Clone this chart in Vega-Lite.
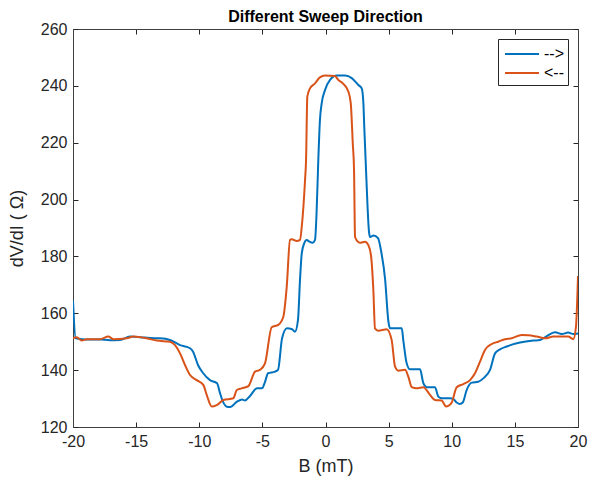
{
  "$schema": "https://vega.github.io/schema/vega-lite/v6.json",
  "width": 505,
  "height": 398,
  "autosize": "none",
  "padding": {"left": 73, "top": 29, "right": 12, "bottom": 60},
  "background": "white",
  "config": {
    "font": "Liberation Sans",
    "view": {"stroke": null},
    "axis": {
      "grid": false,
      "domainColor": "#404040",
      "tickColor": "#262626",
      "labelColor": "#262626",
      "titleColor": "#262626",
      "labelFont": "Liberation Sans",
      "titleFont": "Liberation Sans",
      "labelFontSize": 16,
      "titleFontSize": 18,
      "titleFontWeight": "normal",
      "labelFlush": false,
      "tickSize": -5,
      "labelPadding": 11
    }
  },
  "title": {
    "text": "Different Sweep Direction",
    "fontSize": 16,
    "fontWeight": "bold",
    "color": "#000000",
    "anchor": "middle",
    "offset": -4
  },
  "datasets": {
    "sweep": [
      {"B": -20.0, "R": 164.4, "dir": "-->"},
      {"B": -19.79, "R": 151.2, "dir": "-->"},
      {"B": -19.05, "R": 150.8, "dir": "-->"},
      {"B": -17.86, "R": 150.8, "dir": "-->"},
      {"B": -17.07, "R": 150.5, "dir": "-->"},
      {"B": -16.28, "R": 150.6, "dir": "-->"},
      {"B": -15.49, "R": 151.8, "dir": "-->"},
      {"B": -14.69, "R": 151.6, "dir": "-->"},
      {"B": -13.90, "R": 151.3, "dir": "-->"},
      {"B": -13.11, "R": 151.2, "dir": "-->"},
      {"B": -12.32, "R": 150.6, "dir": "-->"},
      {"B": -11.52, "R": 148.8, "dir": "-->"},
      {"B": -10.73, "R": 147.7, "dir": "-->"},
      {"B": -10.49, "R": 146.5, "dir": "-->"},
      {"B": -10.10, "R": 141.8, "dir": "-->"},
      {"B": -9.70, "R": 139.0, "dir": "-->"},
      {"B": -9.15, "R": 136.5, "dir": "-->"},
      {"B": -8.59, "R": 135.4, "dir": "-->"},
      {"B": -8.36, "R": 132.0, "dir": "-->"},
      {"B": -8.12, "R": 128.9, "dir": "-->"},
      {"B": -7.80, "R": 127.1, "dir": "-->"},
      {"B": -7.56, "R": 127.0, "dir": "-->"},
      {"B": -7.01, "R": 128.9, "dir": "-->"},
      {"B": -6.61, "R": 129.7, "dir": "-->"},
      {"B": -6.38, "R": 129.3, "dir": "-->"},
      {"B": -5.98, "R": 130.9, "dir": "-->"},
      {"B": -5.43, "R": 133.6, "dir": "-->"},
      {"B": -5.03, "R": 133.6, "dir": "-->"},
      {"B": -4.79, "R": 135.9, "dir": "-->"},
      {"B": -4.55, "R": 138.9, "dir": "-->"},
      {"B": -4.00, "R": 139.5, "dir": "-->"},
      {"B": -3.76, "R": 140.1, "dir": "-->"},
      {"B": -3.44, "R": 151.2, "dir": "-->"},
      {"B": -3.05, "R": 154.7, "dir": "-->"},
      {"B": -2.65, "R": 154.4, "dir": "-->"},
      {"B": -2.42, "R": 153.5, "dir": "-->"},
      {"B": -2.18, "R": 157.6, "dir": "-->"},
      {"B": -2.02, "R": 171.7, "dir": "-->"},
      {"B": -1.88, "R": 181.1, "dir": "-->"},
      {"B": -1.68, "R": 184.7, "dir": "-->"},
      {"B": -1.49, "R": 185.8, "dir": "-->"},
      {"B": -1.28, "R": 185.2, "dir": "-->"},
      {"B": -1.02, "R": 184.8, "dir": "-->"},
      {"B": -0.83, "R": 185.8, "dir": "-->"},
      {"B": -0.71, "R": 195.0, "dir": "-->"},
      {"B": -0.57, "R": 213.9, "dir": "-->"},
      {"B": -0.44, "R": 228.0, "dir": "-->"},
      {"B": -0.30, "R": 233.9, "dir": "-->"},
      {"B": -0.04, "R": 238.5, "dir": "-->"},
      {"B": 0.36, "R": 242.1, "dir": "-->"},
      {"B": 0.89, "R": 243.6, "dir": "-->"},
      {"B": 1.55, "R": 243.6, "dir": "-->"},
      {"B": 2.08, "R": 242.7, "dir": "-->"},
      {"B": 2.60, "R": 240.3, "dir": "-->"},
      {"B": 2.87, "R": 239.1, "dir": "-->"},
      {"B": 3.00, "R": 234.0, "dir": "-->"},
      {"B": 3.07, "R": 225.6, "dir": "-->"},
      {"B": 3.21, "R": 210.4, "dir": "-->"},
      {"B": 3.45, "R": 188.5, "dir": "-->"},
      {"B": 3.53, "R": 186.8, "dir": "-->"},
      {"B": 3.80, "R": 187.4, "dir": "-->"},
      {"B": 4.16, "R": 186.4, "dir": "-->"},
      {"B": 4.40, "R": 182.0, "dir": "-->"},
      {"B": 4.72, "R": 172.0, "dir": "-->"},
      {"B": 4.98, "R": 157.2, "dir": "-->"},
      {"B": 5.11, "R": 154.7, "dir": "-->"},
      {"B": 6.04, "R": 154.7, "dir": "-->"},
      {"B": 6.16, "R": 150.6, "dir": "-->"},
      {"B": 6.43, "R": 142.4, "dir": "-->"},
      {"B": 6.69, "R": 140.3, "dir": "-->"},
      {"B": 7.49, "R": 140.3, "dir": "-->"},
      {"B": 7.75, "R": 135.4, "dir": "-->"},
      {"B": 8.02, "R": 134.0, "dir": "-->"},
      {"B": 8.67, "R": 134.0, "dir": "-->"},
      {"B": 8.94, "R": 130.7, "dir": "-->"},
      {"B": 9.20, "R": 130.1, "dir": "-->"},
      {"B": 9.86, "R": 130.1, "dir": "-->"},
      {"B": 10.12, "R": 129.9, "dir": "-->"},
      {"B": 10.39, "R": 128.6, "dir": "-->"},
      {"B": 10.65, "R": 128.1, "dir": "-->"},
      {"B": 10.87, "R": 128.6, "dir": "-->"},
      {"B": 11.18, "R": 133.0, "dir": "-->"},
      {"B": 11.58, "R": 135.6, "dir": "-->"},
      {"B": 12.10, "R": 135.9, "dir": "-->"},
      {"B": 12.50, "R": 137.1, "dir": "-->"},
      {"B": 13.03, "R": 140.1, "dir": "-->"},
      {"B": 13.43, "R": 145.9, "dir": "-->"},
      {"B": 13.82, "R": 147.3, "dir": "-->"},
      {"B": 14.35, "R": 148.3, "dir": "-->"},
      {"B": 15.41, "R": 149.7, "dir": "-->"},
      {"B": 16.46, "R": 150.4, "dir": "-->"},
      {"B": 16.99, "R": 150.6, "dir": "-->"},
      {"B": 17.52, "R": 152.0, "dir": "-->"},
      {"B": 18.18, "R": 153.3, "dir": "-->"},
      {"B": 18.71, "R": 152.7, "dir": "-->"},
      {"B": 19.23, "R": 153.2, "dir": "-->"},
      {"B": 19.63, "R": 152.7, "dir": "-->"},
      {"B": 20.0, "R": 152.9, "dir": "-->"},

      {"B": -20.0, "R": 151.2, "dir": "<--"},
      {"B": -19.71, "R": 151.6, "dir": "<--"},
      {"B": -19.31, "R": 150.4, "dir": "<--"},
      {"B": -18.91, "R": 150.9, "dir": "<--"},
      {"B": -17.86, "R": 150.9, "dir": "<--"},
      {"B": -17.20, "R": 151.8, "dir": "<--"},
      {"B": -16.81, "R": 150.9, "dir": "<--"},
      {"B": -15.75, "R": 151.2, "dir": "<--"},
      {"B": -15.22, "R": 151.8, "dir": "<--"},
      {"B": -14.16, "R": 151.2, "dir": "<--"},
      {"B": -13.37, "R": 150.4, "dir": "<--"},
      {"B": -12.32, "R": 150.0, "dir": "<--"},
      {"B": -11.92, "R": 148.8, "dir": "<--"},
      {"B": -11.52, "R": 145.9, "dir": "<--"},
      {"B": -11.13, "R": 141.8, "dir": "<--"},
      {"B": -10.73, "R": 138.3, "dir": "<--"},
      {"B": -10.20, "R": 136.5, "dir": "<--"},
      {"B": -9.68, "R": 134.8, "dir": "<--"},
      {"B": -9.41, "R": 131.3, "dir": "<--"},
      {"B": -9.01, "R": 127.2, "dir": "<--"},
      {"B": -8.62, "R": 127.7, "dir": "<--"},
      {"B": -8.09, "R": 129.5, "dir": "<--"},
      {"B": -7.30, "R": 130.1, "dir": "<--"},
      {"B": -7.03, "R": 133.0, "dir": "<--"},
      {"B": -6.64, "R": 133.6, "dir": "<--"},
      {"B": -6.11, "R": 134.4, "dir": "<--"},
      {"B": -5.58, "R": 139.5, "dir": "<--"},
      {"B": -5.19, "R": 140.1, "dir": "<--"},
      {"B": -4.79, "R": 142.4, "dir": "<--"},
      {"B": -4.26, "R": 155.1, "dir": "<--"},
      {"B": -3.74, "R": 155.9, "dir": "<--"},
      {"B": -3.34, "R": 158.8, "dir": "<--"},
      {"B": -3.07, "R": 169.4, "dir": "<--"},
      {"B": -2.81, "R": 185.8, "dir": "<--"},
      {"B": -2.67, "R": 186.0, "dir": "<--"},
      {"B": -2.28, "R": 185.4, "dir": "<--"},
      {"B": -2.02, "R": 185.8, "dir": "<--"},
      {"B": -1.88, "R": 190.5, "dir": "<--"},
      {"B": -1.62, "R": 206.9, "dir": "<--"},
      {"B": -1.54, "R": 213.9, "dir": "<--"},
      {"B": -1.44, "R": 236.2, "dir": "<--"},
      {"B": -1.23, "R": 239.1, "dir": "<--"},
      {"B": -0.83, "R": 240.9, "dir": "<--"},
      {"B": -0.44, "R": 243.0, "dir": "<--"},
      {"B": -0.04, "R": 243.6, "dir": "<--"},
      {"B": 0.75, "R": 243.5, "dir": "<--"},
      {"B": 1.01, "R": 242.1, "dir": "<--"},
      {"B": 1.41, "R": 240.7, "dir": "<--"},
      {"B": 1.81, "R": 238.0, "dir": "<--"},
      {"B": 2.00, "R": 233.9, "dir": "<--"},
      {"B": 2.16, "R": 219.8, "dir": "<--"},
      {"B": 2.26, "R": 210.4, "dir": "<--"},
      {"B": 2.34, "R": 186.9, "dir": "<--"},
      {"B": 2.52, "R": 185.4, "dir": "<--"},
      {"B": 2.73, "R": 184.8, "dir": "<--"},
      {"B": 3.13, "R": 185.2, "dir": "<--"},
      {"B": 3.39, "R": 184.0, "dir": "<--"},
      {"B": 3.60, "R": 180.5, "dir": "<--"},
      {"B": 3.79, "R": 168.2, "dir": "<--"},
      {"B": 3.92, "R": 154.7, "dir": "<--"},
      {"B": 4.18, "R": 153.9, "dir": "<--"},
      {"B": 4.85, "R": 154.4, "dir": "<--"},
      {"B": 5.24, "R": 150.6, "dir": "<--"},
      {"B": 5.51, "R": 141.2, "dir": "<--"},
      {"B": 5.77, "R": 139.8, "dir": "<--"},
      {"B": 6.30, "R": 140.1, "dir": "<--"},
      {"B": 6.56, "R": 137.7, "dir": "<--"},
      {"B": 6.83, "R": 134.0, "dir": "<--"},
      {"B": 7.22, "R": 133.6, "dir": "<--"},
      {"B": 7.75, "R": 134.0, "dir": "<--"},
      {"B": 8.28, "R": 131.3, "dir": "<--"},
      {"B": 8.67, "R": 129.5, "dir": "<--"},
      {"B": 9.20, "R": 129.3, "dir": "<--"},
      {"B": 9.55, "R": 127.2, "dir": "<--"},
      {"B": 9.73, "R": 127.4, "dir": "<--"},
      {"B": 10.00, "R": 128.6, "dir": "<--"},
      {"B": 10.39, "R": 134.0, "dir": "<--"},
      {"B": 10.92, "R": 135.1, "dir": "<--"},
      {"B": 11.45, "R": 136.5, "dir": "<--"},
      {"B": 11.84, "R": 138.9, "dir": "<--"},
      {"B": 12.24, "R": 143.0, "dir": "<--"},
      {"B": 12.63, "R": 147.1, "dir": "<--"},
      {"B": 13.17, "R": 149.2, "dir": "<--"},
      {"B": 13.69, "R": 150.0, "dir": "<--"},
      {"B": 14.22, "R": 150.9, "dir": "<--"},
      {"B": 14.75, "R": 151.2, "dir": "<--"},
      {"B": 15.54, "R": 152.4, "dir": "<--"},
      {"B": 16.07, "R": 152.3, "dir": "<--"},
      {"B": 16.73, "R": 151.8, "dir": "<--"},
      {"B": 17.39, "R": 151.2, "dir": "<--"},
      {"B": 18.05, "R": 151.8, "dir": "<--"},
      {"B": 18.84, "R": 151.8, "dir": "<--"},
      {"B": 19.23, "R": 151.8, "dir": "<--"},
      {"B": 19.63, "R": 150.9, "dir": "<--"},
      {"B": 19.84, "R": 155.3, "dir": "<--"},
      {"B": 20.0, "R": 173.1, "dir": "<--"}
    ]
  },
  "data": {"name": "sweep"},
  "layer": [
    {
      "mark": {"type": "line", "strokeWidth": 2, "interpolate": "monotone", "clip": true},
      "encoding": {
        "x": {
          "field": "B", "type": "quantitative",
          "scale": {"domain": [-20, 20], "nice": false, "zero": false},
          "axis": {
            "orient": "bottom",
            "values": [-20, -15, -10, -5, 0, 5, 10, 15, 20],
            "labelExpr": "datum.value < 0 ? '-' + abs(datum.value) : '' + datum.value",
            "title": "B (mT)",
            "titlePadding": 8
          }
        },
        "y": {
          "field": "R", "type": "quantitative",
          "scale": {"domain": [120, 260], "nice": false, "zero": false},
          "axis": {
            "orient": "left",
            "values": [120, 140, 160, 180, 200, 220, 240, 260],
            "title": "dV/dI ( Ω)",
            "titlePadding": 14
          }
        },
        "color": {
          "field": "dir", "type": "nominal",
          "scale": {"domain": ["-->", "<--"], "range": ["#0072BD", "#D95319"]},
          "legend": {
            "title": null,
            "orient": "top-right",
            "offset": 10,
            "symbolType": "M-0.8,0H2.6",
            "symbolStrokeWidth": 2,
            "symbolSize": 400,
            "symbolFillColor": "transparent",
            "labelOffset": 20,
            "labelFontSize": 16,
            "labelColor": "#000000",
            "labelFont": "Liberation Sans",
            "strokeColor": "#262626",
            "fillColor": "white",
            "padding": 4,
            "rowPadding": 0
          }
        }
      }
    },
    {
      "mark": {"type": "point", "opacity": 0},
      "encoding": {
        "x": {
          "field": "B", "type": "quantitative",
          "scale": {"domain": [-20, 20], "nice": false, "zero": false},
          "axis": {"orient": "top", "values": [-20, -15, -10, -5, 0, 5, 10, 15, 20], "labels": false, "title": null}
        },
        "y": {
          "field": "R", "type": "quantitative",
          "scale": {"domain": [120, 260], "nice": false, "zero": false},
          "axis": {"orient": "right", "values": [120, 140, 160, 180, 200, 220, 240, 260], "labels": false, "title": null}
        }
      }
    }
  ],
  "resolve": {"scale": {"x": "independent", "y": "independent"}, "axis": {"x": "independent", "y": "independent"}}
}
